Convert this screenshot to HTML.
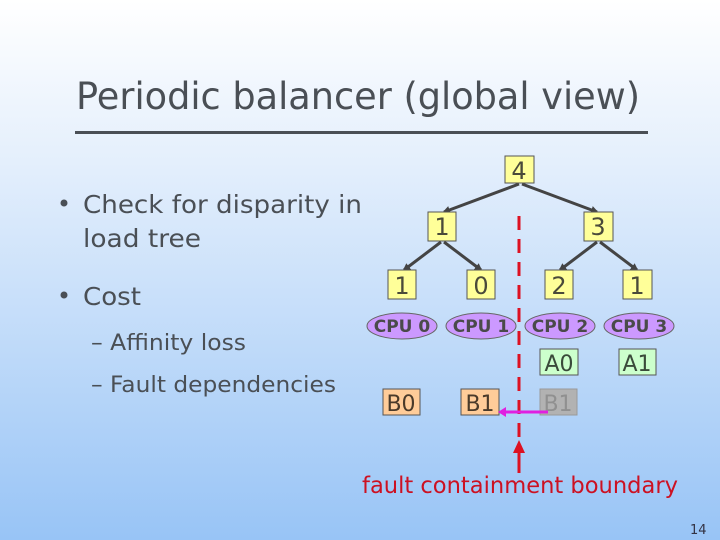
<!DOCTYPE html>
<html><head><meta charset="utf-8"><style>
html,body{margin:0;padding:0;width:720px;height:540px;overflow:hidden}
svg{display:block}
text{font-family:"DejaVu Sans","Liberation Sans",sans-serif}
</style></head><body>
<svg width="720" height="540" viewBox="0 0 720 540" xmlns="http://www.w3.org/2000/svg">
<defs>
<linearGradient id="bg" x1="0" y1="0" x2="0" y2="1">
<stop offset="0" stop-color="#ffffff"/>
<stop offset="0.3" stop-color="#e4effc"/>
<stop offset="1" stop-color="#98c4f6"/>
</linearGradient>
<marker id="ah" markerWidth="8" markerHeight="8" refX="6" refY="4" orient="auto" markerUnits="userSpaceOnUse">
<path d="M0,0 L8,4 L0,8 z" fill="#444"/>
</marker>
</defs>
<rect width="720" height="540" fill="url(#bg)"/>
<text x="76" y="109" font-size="37" fill="#4a4f55" textLength="564" lengthAdjust="spacingAndGlyphs">Periodic balancer (global view)</text>
<rect x="75" y="131" width="573" height="3" fill="#4a4f55"/>
<g fill="#4a4f55" font-size="25">
<circle cx="64" cy="203" r="3.5"/>
<text x="83" y="213" textLength="279" lengthAdjust="spacingAndGlyphs">Check for disparity in</text>
<text x="83" y="247" textLength="118" lengthAdjust="spacingAndGlyphs">load tree</text>
<circle cx="64" cy="295" r="3.5"/>
<text x="83" y="305" textLength="58" lengthAdjust="spacingAndGlyphs">Cost</text>
<text x="91" y="350" font-size="22" textLength="155" lengthAdjust="spacingAndGlyphs">– Affinity loss</text>
<text x="91" y="392" font-size="22" textLength="245" lengthAdjust="spacingAndGlyphs">– Fault dependencies</text>
</g>
<g stroke="#444" stroke-width="3" marker-end="url(#ah)">
<line x1="519" y1="184" x2="444" y2="212"/>
<line x1="522" y1="184" x2="597" y2="212"/>
<line x1="441" y1="242" x2="404" y2="270"/>
<line x1="444" y1="242" x2="481" y2="270"/>
<line x1="597" y1="242" x2="560" y2="270"/>
<line x1="600" y1="242" x2="637" y2="270"/>
</g>
<g fill="#ffff99" stroke="#555" stroke-width="1">
<rect x="505" y="156" width="29" height="27"/>
<rect x="428" y="212" width="28" height="29"/>
<rect x="584" y="212" width="29" height="29"/>
<rect x="388" y="270" width="28" height="29"/>
<rect x="467" y="270" width="28" height="29"/>
<rect x="545" y="270" width="28" height="29"/>
<rect x="623" y="270" width="29" height="29"/>
</g>
<g fill="#4a4a3a" font-size="24" text-anchor="middle">
<text x="519" y="179">4</text>
<text x="442" y="235">1</text>
<text x="598" y="235">3</text>
<text x="402" y="294">1</text>
<text x="481" y="294">0</text>
<text x="559" y="294">2</text>
<text x="637" y="294">1</text>
</g>
<g fill="#cc99ff" stroke="#666" stroke-width="1">
<ellipse cx="402" cy="326" rx="35" ry="13"/>
<ellipse cx="481" cy="326" rx="35" ry="13"/>
<ellipse cx="560" cy="326" rx="35" ry="13"/>
<ellipse cx="639" cy="326" rx="35" ry="13"/>
</g>
<g fill="#4a4a4a" font-size="17" font-weight="bold" text-anchor="middle">
<text x="402" y="332">CPU 0</text>
<text x="481" y="332">CPU 1</text>
<text x="560" y="332">CPU 2</text>
<text x="639" y="332">CPU 3</text>
</g>
<line x1="519" y1="216" x2="519" y2="440" stroke="#dd1122" stroke-width="3" stroke-dasharray="14,9"/>
<line x1="519" y1="473" x2="519" y2="452" stroke="#dd1122" stroke-width="3"/>
<path d="M513,453 L519,440 L525,453 z" fill="#dd1122"/>
<g stroke="#555" stroke-width="1">
<rect x="540" y="349" width="38" height="26" fill="#ccffcc"/>
<rect x="619" y="349" width="37" height="26" fill="#ccffcc"/>
<rect x="383" y="389" width="37" height="26" fill="#ffcc99"/>
<rect x="461" y="389" width="38" height="26" fill="#ffcc99"/>
<rect x="540" y="389" width="37" height="26" fill="#b2b2b2" stroke="#999"/>
</g>
<g font-size="22" text-anchor="middle">
<text x="559" y="371" fill="#3a4a3a">A0</text>
<text x="637" y="371" fill="#3a4a3a">A1</text>
<text x="401" y="411" fill="#4a3a2a">B0</text>
<text x="480" y="411" fill="#4a3a2a">B1</text>
<text x="558" y="411" fill="#909090">B1</text>
</g>
<line x1="548" y1="412" x2="505" y2="412" stroke="#e020e0" stroke-width="3"/>
<path d="M506,407 L498,412 L506,417 z" fill="#e020e0"/>
<text x="362" y="493" font-size="23" fill="#cc1122" textLength="316" lengthAdjust="spacingAndGlyphs">fault containment boundary</text>
<text x="690" y="534" font-size="13" fill="#334">14</text>
</svg>
</body></html>
